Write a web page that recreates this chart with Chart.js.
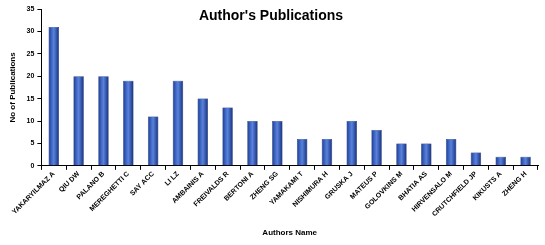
<!DOCTYPE html>
<html>
<head>
<meta charset="utf-8">
<script src="https://cdn.jsdelivr.net/npm/chart.js@4.4.1/dist/chart.umd.min.js"></script>
<style>
  html, body { margin: 0; padding: 0; background: #fff; }
  #wrap { width: 545px; height: 245px; position: relative; }
</style>
</head>
<body>
<div id="wrap"><canvas id="chart"></canvas></div>
<script>
// 作者与发文数量
const authors = ["YAKARYILMAZ A", "QIU DW", "PALANO B", "MEREGHETTI C", "SAY ACC", "LI LZ",
  "AMBAINIS A", "FREIVALDS R", "BERTONI A", "ZHENG SG", "YAMAKAMI T", "NISHIMURA H",
  "GRUSKA J", "MATEUS P", "GOLOVKINS M", "BHATIA AS", "HIRVENSALO M", "CRUTCHFIELD JP",
  "KIKUSTS A", "ZHENG H"];
const publications = [31, 20, 20, 19, 11, 19, 15, 13, 10, 10, 6, 6, 10, 8, 5, 5, 6, 3, 2, 2];
const yTicks = [0, 5, 10, 15, 20, 25, 30, 35];
const chartTitle = "Author's Publications";

const BAR_PCT = 0.42;
const fontFamily = "'Liberation Sans', 'DejaVu Sans', sans-serif";

// 每根柱子的横向渐变
function barGradient(context) {
  const chart = context.chart;
  const xScale = chart.scales.x;
  if (!xScale || context.dataIndex === undefined) return '#3a5fb5';
  const cx = xScale.getPixelForValue(context.dataIndex);
  const w = (xScale.width / authors.length) * BAR_PCT;
  if (!isFinite(cx) || !isFinite(w) || w <= 0) return '#3a5fb5';
  const g = chart.ctx.createLinearGradient(cx - w / 2, 0, cx + w / 2, 0);
  g.addColorStop(0, '#1d3a8a');
  g.addColorStop(0.3, '#3f68c8');
  g.addColorStop(0.5, '#5b82d8');
  g.addColorStop(0.75, '#3558b0');
  g.addColorStop(1, '#172f74');
  return g;
}

const shadowPlugin = {
  id: 'barShadow',
  beforeDatasetsDraw(chart) {
    const ctx = chart.ctx;
    ctx.save();
    ctx.shadowColor = 'rgba(60, 80, 140, 0.35)';
    ctx.shadowBlur = 4;
    ctx.shadowOffsetX = 1;
  },
  afterDatasetsDraw(chart) {
    chart.ctx.restore();
  }
};

// 标题画在绘图区内部（不占布局空间）
const overlayTitle = {
  id: 'overlayTitle',
  afterDraw(chart) {
    const ctx = chart.ctx;
    ctx.save();
    ctx.font = "bold 14px " + fontFamily;
    ctx.fillStyle = '#000';
    ctx.textAlign = 'center';
    ctx.textBaseline = 'middle';
    ctx.fillText(chartTitle, 271, 16);
    ctx.restore();
  }
};

new Chart(document.getElementById('chart'), {
  type: 'bar',
  data: {
    labels: authors,
    datasets: [{
      data: publications,
      backgroundColor: barGradient,
      borderColor: '#1a2f6a',
      borderWidth: 0.5,
      barPercentage: BAR_PCT,
      categoryPercentage: 1
    }]
  },
  plugins: [shadowPlugin, overlayTitle],
  options: {
    responsive: true,
    maintainAspectRatio: false,
    animation: false,
    layout: { padding: { top: 9, right: 7, left: 8, bottom: 7 } },
    plugins: {
      legend: { display: false },
      tooltip: { enabled: false },
      title: { display: false }
    },
    scales: {
      x: {
        grid: { display: true, drawOnChartArea: false, color: '#000', tickLength: 4, offset: true },
        border: { color: '#000', width: 1 },
        ticks: {
          color: '#000',
          autoSkip: false,
          maxRotation: 45,
          minRotation: 45,
          padding: 0,
          font: { family: fontFamily, size: 7, weight: 'bold' }
        },
        title: {
          display: true,
          text: 'Authors Name',
          color: '#000',
          font: { family: fontFamily, size: 8, weight: 'bold' },
          padding: { top: 10, bottom: 0 }
        }
      },
      y: {
        min: 0,
        max: 35,
        afterBuildTicks(axis) { axis.ticks = yTicks.map(v => ({ value: v })); },
        grid: { display: true, drawOnChartArea: false, color: '#000', tickLength: 4 },
        border: { color: '#000', width: 1 },
        ticks: {
          color: '#000',
          padding: 3,
          font: { family: fontFamily, size: 7, weight: 'bold' }
        },
        title: {
          display: true,
          text: 'No of Publications',
          color: '#000',
          font: { family: fontFamily, size: 8, weight: 'bold' },
          padding: { top: 0, bottom: 6 }
        }
      }
    }
  }
});
</script>
</body>
</html>
